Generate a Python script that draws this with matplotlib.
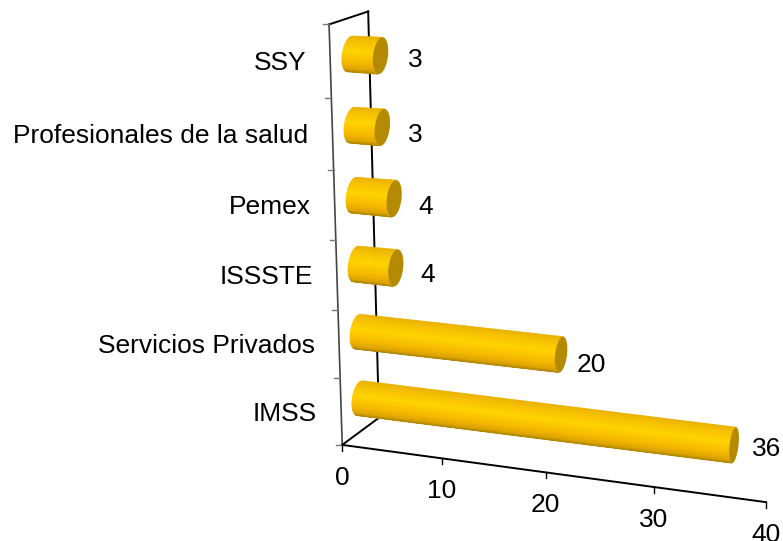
import numpy as np
import matplotlib
matplotlib.use('Agg')
import matplotlib.pyplot as plt
from matplotlib.colors import LinearSegmentedColormap

plt.rcParams['font.family'] = ['Liberation Sans', 'DejaVu Sans']

categories = ['IMSS', 'Servicios Privados', 'ISSSTE', 'Pemex', 'Profesionales de la salud', 'SSY']
values = [36, 20, 4, 4, 3, 3]
x_ticks = [0, 10, 20, 30, 40]

# offsets of the value labels from the end of each bar, pixels
label_dx = [33, 30, 32, 32, 33, 35]
label_dy = [4, 10, 7, 8, 8, 4]

# calibration of the 3D view: (value, category, depth) -> pixel
world = np.array([
    (0, 0, 0), (10, 0, 0), (20, 0, 0), (30, 0, 0), (40, 0, 0),
    (0, 1, 0), (0, 2, 0), (0, 3, 0), (0, 4, 0), (0, 5, 0), (0, 6, 0),
    (0, 6, 1), (0, 0, 1),
    (0, .5, .5), (36, .5, .5), (0, 1.5, .5), (20, 1.5, .5),
    (3, 5.5, .5), (3, 4.5, .5), (4, 3.5, .5), (4, 2.5, .5)], dtype=float)
pixel = np.array([
    (342, 444), (442, 460), (546, 473), (653, 487), (766, 502),
    (340.5, 377), (339, 309), (337, 241), (334, 170), (331, 98), (328, 24),
    (369, 12), (379, 418),
    (359, 398), (734, 445), (357, 332), (562, 354),
    (380, 55), (382, 128), (394, 198), (396, 268)], dtype=float)

rows, rhs = [], []
for (X, Y, Z), (u, v) in zip(world, pixel):
    rows.append([X, Y, Z, 1, 0, 0, 0, 0, -u*X, -u*Y, -u*Z])
    rhs.append(u)
    rows.append([0, 0, 0, 0, X, Y, Z, 1, -v*X, -v*Y, -v*Z])
    rhs.append(v)
p = np.linalg.lstsq(np.array(rows), np.array(rhs), rcond=None)[0]
P = np.append(p, 1).reshape(3, 4)


def proj(val, cat, depth=0.0):
    h = P @ np.array([val, cat, depth, 1.0])
    return h[0] / h[2], h[1] / h[2]


body = LinearSegmentedColormap.from_list('body', [
    (0.0, '#E8B000'), (0.12, '#F4BE00'), (0.42, '#FFD400'),
    (0.75, '#F6B800'), (0.92, '#DDA400'), (1.0, '#B08600')])
cap_color = '#B48A00'


def ellipse_width(x):
    # the caps get narrower towards the right of the picture
    return 7.5 - 3.0 * (x - 380) / 354


def cylinder(ax, val, cat):
    x0, y0 = proj(0, cat, 0.5)
    x1, y1 = proj(val, cat, 0.5)
    r1 = 18.0 if val > 10 else 18.5
    r0 = 17.5 if val > 10 else 18.0
    a0, a1 = ellipse_width(x0), ellipse_width(x1)
    ts = np.linspace(-1, 1, 61)
    for t0, t1 in zip(ts[:-1], ts[1:]):
        s0, s1 = np.sqrt(1 - t0**2), np.sqrt(1 - t1**2)
        xs = [x0 - a0*s0 - 2.5*t0, x1 - a1*s0 - 2.5*t0, x1 - a1*s1 - 2.5*t1, x0 - a0*s1 - 2.5*t1]
        ys = [y0 + r0*t0, y1 + r1*t0, y1 + r1*t1, y0 + r0*t1]
        col = body((t0 + t1) / 4 + 0.5)
        ax.fill(xs, ys, color=col, lw=0.4, zorder=3)
    th = np.linspace(0, 2*np.pi, 80)
    ax.fill(x1 + a1*np.cos(th) - 2.0*np.sin(th), y1 + r1*np.sin(th), color=cap_color, lw=0, zorder=4)
    return x1, y1


fig = plt.figure(figsize=(7.83, 5.41), dpi=100)
ax = fig.add_axes([0, 0, 1, 1])
ax.set_xlim(0, 783)
ax.set_ylim(541, 0)
ax.axis('off')

# walls and floor
a = proj(0, 0, 0)
b = proj(40, 0, 0)
c = proj(0, 6, 0)
d = proj(0, 6, 1)
e = proj(0, 0, 1)
ax.plot([a[0], c[0]], [a[1], c[1]], color='#444444', lw=1.2, zorder=1)
ax.plot([c[0], d[0]], [c[1], d[1]], color='k', lw=1.4, zorder=1)
ax.plot([d[0], e[0]], [d[1], e[1]], color='k', lw=1.4, zorder=1)
ax.plot([a[0], e[0]], [a[1], e[1]], color='k', lw=1.4, zorder=1)
ax.plot([a[0], b[0]], [a[1], b[1]], color='k', lw=1.4, zorder=1)

for i in range(len(categories) + 1):
    x, y = proj(0, i, 0)
    ax.plot([x - 6, x], [y, y], color='#777777', lw=1, zorder=1)

for tick in x_ticks:
    x, y = proj(tick, 0, 0)
    ax.plot([x, x], [y, y + 6], color='k', lw=1, zorder=1)
    ax.text(x, y + 33, str(tick), ha='center', va='center', fontsize=19)

for i, name in enumerate(categories):
    x, y = proj(0, i + 0.5, 0)
    ax.text(x - 24, y + 2, name, ha='right', va='center', fontsize=19)
    x1, y1 = cylinder(ax, values[i], i + 0.5)
    ax.text(x1 + label_dx[i], y1 + label_dy[i], str(values[i]), ha='center', va='center', fontsize=19)

fig.savefig('out.png', dpi=100)
